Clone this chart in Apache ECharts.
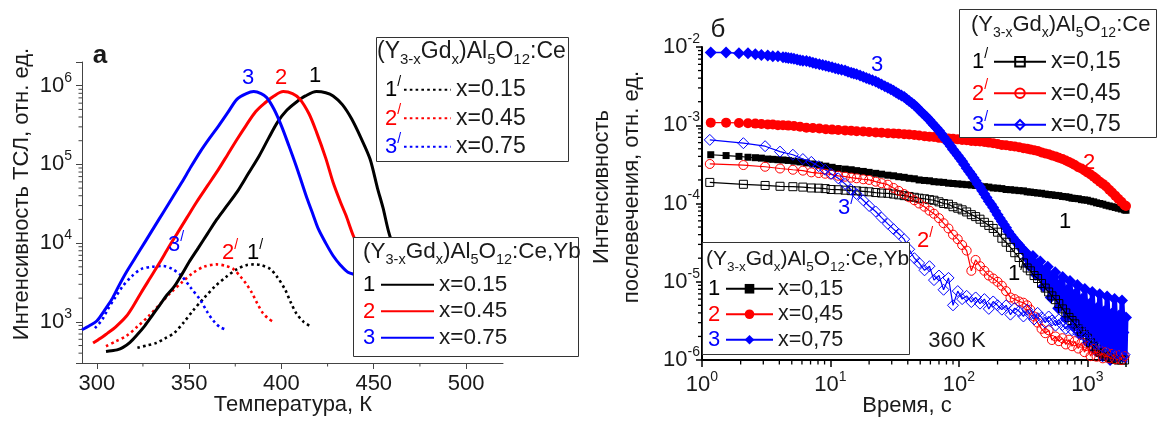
<!DOCTYPE html>
<html><head><meta charset="utf-8">
<script src="https://cdn.jsdelivr.net/npm/echarts@6/dist/echarts.min.js"></script>
<style>html,body{margin:0;padding:0;background:#fff}#c{width:1159px;height:421px}</style>
</head><body><div id="c"></div>
<script>
// ---------- Panel а : TL glow curves (temperature K, intensity) ----------
const tlYb1 = [[305,420],[308,430],[311,440],[314,470],[318,550],[322,690],[326,890],[330,1200],[334,1620],[338,2190],[342,2820],[346,3980],[350,5750],[355,8700],[360,13200],[365,20000],[370,28800],[376,44700],[382,75900],[388,129000],[393,214000],[398,347000],[403,490000],[408,617000],[413,741000],[419,841000],[424,813000],[428,741000],[433,575000],[438,380000],[443,219000],[448,117000],[452,50100],[455,28200],[458,14100],[462,7080],[466,3550],[470,2000]];
const tlYb2 = [[298,537],[302,617],[306,724],[310,851],[316,1175],[320,1622],[324,2344],[329,3631],[334,5623],[339,8913],[344,13804],[349,21380],[354,33113],[360,53703],[366,87096],[371,134896],[376,208930],[381,316228],[386,467735],[391,602560],[396,741310],[401,841395],[406,794328],[410,676083],[415,436516],[419,257040],[424,120226],[428,58884],[432,33113],[435,22387],[439,12303],[444,7079],[450,3981]];
const tlYb3 = [[292,794],[296,891],[300,1023],[304,1380],[308,1905],[312,2884],[316,4266],[321,6607],[326,10233],[331,15849],[336,24547],[341,38019],[346,58884],[351,93325],[356,144544],[361,213796],[366,309030],[371,457088],[376,676083],[381,794328],[385,841395],[389,794328],[392,707946],[396,501187],[400,309030],[404,173780],[408,95499],[411,58884],[414,36308],[417,23442],[420,15136],[424,10000],[428,6918],[432,5248],[436,4266],[440,3981],[444,3802]];
const tlCe1 = [[322,468],[327,501],[332,537],[337,617],[342,724],[347,977],[352,1380],[358,1995],[364,2818],[370,3715],[376,4677],[381,5248],[385,5370],[389,5248],[394,4677],[398,3631],[402,2570],[405,1778],[408,1288],[412,1000],[416,871]];
const tlCe2 = [[305,490],[310,562],[316,661],[322,871],[328,1175],[334,1660],[340,2344],[346,3162],[352,4169],[358,5012],[365,5370],[370,5129],[374,4677],[378,3715],[381,3020],[384,2344],[387,1698],[390,1288],[393,1096],[395,1023]];
const tlCe3 = [[299,832],[303,1072],[306,1445],[310,2042],[314,2818],[319,3802],[324,4677],[330,5012],[336,5129],[341,4677],[346,3802],[351,2692],[356,1905],[360,1318],[364,977],[367,851],[370,794]];
const tempTicks = [300, 350, 400, 450, 500];
const tempMinorTicks = [325, 375, 425, 475];
const tlMinorTicks = [400,500,600,700,800,900,2000,3000,4000,5000,6000,7000,8000,9000,2e4,3e4,4e4,5e4,6e4,7e4,8e4,9e4,2e5,3e5,4e5,5e5,6e5,7e5,8e5,9e5];

// ---------- Panel б : afterglow decay (time s, intensity) ----------
const tYb = [1.17,1.54,1.94,2.28,2.6,2.9,3.25,3.56,3.9,4.27,4.7,5.2,5.8,6.5,7.3,8.2,9.2,10.3,11.5,13,14.5,16,18,20,22.5,25,28,31,34,37.5,41,45,49,54,59,64,70,76,83,90,98,106,115,125,135,146,158,171,185,200,216,233,252,272,294,318,340,360,385,410,440,470,500,530,565,600,640,680,720,760,800,850,900,950,1000,1060,1120,1180,1250,1320,1400,1480,1560,1650,1740,1840,1950,2000];
const agYb1 = [4.2e-4,4.1e-4,4.0e-4,3.9e-4,3.85e-4,3.8e-4,3.7e-4,3.67e-4,3.63e-4,3.6e-4,3.55e-4,3.47e-4,3.4e-4,3.3e-4,3.2e-4,3.1e-4,3.0e-4,2.9e-4,2.8e-4,2.75e-4,2.7e-4,2.63e-4,2.57e-4,2.5e-4,2.43e-4,2.37e-4,2.3e-4,2.26e-4,2.2e-4,2.16e-4,2.1e-4,2.07e-4,2.0e-4,1.97e-4,1.95e-4,1.9e-4,1.88e-4,1.86e-4,1.82e-4,1.8e-4,1.78e-4,1.76e-4,1.74e-4,1.72e-4,1.7e-4,1.66e-4,1.64e-4,1.62e-4,1.58e-4,1.57e-4,1.55e-4,1.51e-4,1.5e-4,1.48e-4,1.46e-4,1.45e-4,1.41e-4,1.4e-4,1.38e-4,1.36e-4,1.35e-4,1.32e-4,1.3e-4,1.29e-4,1.27e-4,1.26e-4,1.23e-4,1.22e-4,1.2e-4,1.17e-4,1.16e-4,1.15e-4,1.12e-4,1.11e-4,1.1e-4,1.07e-4,1.05e-4,1.02e-4,1.0e-4,9.8e-5,9.5e-5,9.3e-5,9.1e-5,8.9e-5,8.7e-5,8.5e-5,8.3e-5,8.2e-5];
const agYb2 = [1.08e-3,1.08e-3,1.07e-3,1.06e-3,1.05e-3,1.035e-3,1.02e-3,1.02e-3,1.0e-3,1.0e-3,9.9e-4,9.8e-4,9.55e-4,9.3e-4,9.2e-4,9.1e-4,8.9e-4,8.8e-4,8.7e-4,8.6e-4,8.5e-4,8.4e-4,8.3e-4,8.2e-4,8.1e-4,8.0e-4,7.9e-4,7.85e-4,7.8e-4,7.7e-4,7.6e-4,7.5e-4,7.4e-4,7.25e-4,7.15e-4,7.1e-4,6.9e-4,6.8e-4,6.75e-4,6.7e-4,6.6e-4,6.5e-4,6.45e-4,6.3e-4,6.25e-4,6.2e-4,6.1e-4,6.0e-4,5.9e-4,5.75e-4,5.6e-4,5.55e-4,5.45e-4,5.35e-4,5.25e-4,5.1e-4,5.0e-4,4.9e-4,4.8e-4,4.7e-4,4.5e-4,4.35e-4,4.25e-4,4.1e-4,4.0e-4,3.85e-4,3.7e-4,3.55e-4,3.4e-4,3.25e-4,3.1e-4,2.9e-4,2.8e-4,2.65e-4,2.5e-4,2.35e-4,2.2e-4,2.05e-4,1.9e-4,1.78e-4,1.65e-4,1.5e-4,1.38e-4,1.26e-4,1.15e-4,1.05e-4,9.5e-5,9.3e-5];
const tYb3 = [1.17,1.54,1.94,2.28,2.6,2.9,3.25,3.56,3.9,4.27,4.5,4.7,4.95,5.2,5.5,5.8,6.1,6.5,6.9,7.3,7.7,8.2,8.7,9.2,9.7,10.3,10.9,11.5,12.2,13,13.7,14.5,15.2,16,17,18,19,20,21.2,22.5,23.7,25,26.5,28,29.5,31,32.5,34,35.7,37.5,39.2,41,43,45,47,49,51.5,54,56.5,59,61.5,64,67,70,73,76,79.5,83,86.5,90,94,98,102,106,110,115,120,125,130,135,140,146,152,158,164,171,178,185,192,200,208,216,224,233,242,252,262,272,283,294,306,318,
  330,339,348,357,367,377,387,397,408,419,430,442,454,466,479,492,505,519,533,547,562,577,593,609,625,642,659,677,695,714,733,753,773,794,815,837,860,883,907,931,956,982,1009,1036,1064,1093,1122,1152,1183,1215,1248,1282,1316,1352,1388,1426,1464,1504,1544,1586,1629,1673,1718,1764,1812,1861,1911,1963,2000];
const agYb3 = [8.5e-3,8.5e-3,8.3e-3,8.3e-3,8.1e-3,7.9e-3,7.8e-3,7.6e-3,7.6e-3,7.41e-3,7.33e-3,7.24e-3,7.16e-3,7.08e-3,6.92e-3,6.76e-3,6.68e-3,6.61e-3,6.46e-3,6.31e-3,6.17e-3,6.03e-3,5.89e-3,5.75e-3,5.62e-3,5.50e-3,5.37e-3,5.25e-3,5.13e-3,5.01e-3,4.84e-3,4.68e-3,4.57e-3,4.47e-3,4.32e-3,4.17e-3,4.03e-3,3.89e-3,3.76e-3,3.63e-3,3.47e-3,3.31e-3,3.16e-3,3.02e-3,2.88e-3,2.75e-3,2.63e-3,2.51e-3,2.40e-3,2.29e-3,2.16e-3,2.04e-3,1.93e-3,1.82e-3,1.70e-3,1.58e-3,1.46e-3,1.35e-3,1.26e-3,1.17e-3,1.08e-3,1.0e-3,9.2e-4,8.5e-4,7.8e-4,7.1e-4,6.5e-4,5.9e-4,5.4e-4,4.9e-4,4.5e-4,4.1e-4,3.76e-4,3.47e-4,3.16e-4,2.82e-4,2.57e-4,2.34e-4,2.14e-4,1.95e-4,1.78e-4,1.62e-4,1.46e-4,1.32e-4,1.19e-4,1.07e-4,9.8e-5,8.9e-5,8.0e-5,7.2e-5,6.5e-5,5.9e-5,5.4e-5,4.9e-5,4.4e-5,4.0e-5,3.67e-5,3.39e-5,3.16e-5,2.95e-5,2.72e-5,2.51e-5,
  2.4e-5,2.0e-5,1.62e-5,2.04e-5,1.6e-5,2.14e-5,1.66e-5,1.23e-5,1.7e-5,1.23e-5,1.82e-5,1.29e-5,8.7e-6,1.38e-5,9.1e-6,1.55e-5,1.02e-5,6.3e-6,1.12e-5,6.9e-6,1.32e-5,7.9e-6,4.6e-6,9.3e-6,5.25e-6,1.15e-5,6.3e-6,3.4e-6,7.9e-6,4.2e-6,1.02e-5,5.3e-6,2.7e-6,6.9e-6,3.4e-6,9.1e-6,4.5e-6,2.14e-6,6.0e-6,2.8e-6,8.1e-6,3.7e-6,1.66e-6,5.2e-6,2.3e-6,7.4e-6,3.2e-6,1.32e-6,4.6e-6,1.95e-6,6.9e-6,2.8e-6,1.12e-6,4.2e-6,1.66e-6,6.5e-6,2.5e-6,1.0e-6,3.9e-6,1.51e-6,6.0e-6,2.4e-6,9.3e-7,3.7e-6,1.45e-6,5.75e-6,2.24e-6,8.9e-7,3.5e-6];
const YB3_NOISY_FROM = 101; // index where curve 3 turns into the noisy band (t ≈ 318 s)
const tCe = [1.15,2.1,3.1,4.05,5.1,6.1,7.1,8.1,9.1,10.1,11.5,13,14.5,16,18,20,22.5,25,28,31,34,37.5,41,45,49,54,59,64,70,76,83,90,98,106,115,125,135,146,158,171,185,200,216,233,252,272,294,318,340,360,385,410,440,470,500,530,565,600,640,680,720,760,800,850,900,950,1000,1060,1120,1180,1250,1320,1400,1480,1560,1650,1740,1840,1950];
const agCe1 = [1.86e-4,1.76e-4,1.7e-4,1.66e-4,1.64e-4,1.62e-4,1.58e-4,1.57e-4,1.55e-4,1.51e-4,1.5e-4,1.48e-4,1.46e-4,1.45e-4,1.43e-4,1.41e-4,1.38e-4,1.36e-4,1.35e-4,1.32e-4,1.29e-4,1.26e-4,1.23e-4,1.2e-4,1.17e-4,1.15e-4,1.12e-4,1.1e-4,1.05e-4,1.0e-4,9.8e-5,9.1e-5,8.7e-5,8.3e-5,7.8e-5,7.2e-5,6.8e-5,6.3e-5,5.75e-5,5.25e-5,4.8e-5,4.3e-5,3.6e-5,3.2e-5,2.75e-5,2.35e-5,2.04e-5,1.74e-5,1.5e-5,1.38e-5,1.2e-5,1.1e-5,9.5e-6,8.3e-6,7.4e-6,6.6e-6,5.9e-6,5.25e-6,4.5e-6,4.0e-6,3.5e-6,3.2e-6,2.9e-6,2.5e-6,2.3e-6,2.1e-6,1.9e-6,1.66e-6,1.5e-6,1.38e-6,1.26e-6,1.2e-6,1.12e-6,1.07e-6,1.05e-6,1.02e-6,1.0e-6,1.0e-6,1.0e-6];
const agCe2 = [3.2e-4,3.1e-4,2.95e-4,2.8e-4,2.7e-4,2.63e-4,2.5e-4,2.45e-4,2.4e-4,2.35e-4,2.26e-4,2.2e-4,2.14e-4,2.1e-4,2.04e-4,2.0e-4,1.9e-4,1.82e-4,1.74e-4,1.58e-4,1.45e-4,1.32e-4,1.2e-4,1.1e-4,1.0e-4,9.1e-5,8.1e-5,7.4e-5,6.5e-5,5.6e-5,4.8e-5,4.0e-5,3.5e-5,2.95e-5,2.5e-5,1.38e-5,1.9e-5,1.58e-5,1.38e-5,1.2e-5,1.1e-5,1.0e-5,8.9e-6,7.6e-6,6.3e-6,6.0e-6,5.6e-6,5.4e-6,5.0e-6,4.4e-6,3.6e-6,3.0e-6,2.5e-6,2.2e-6,2.4e-6,1.8e-6,2.0e-6,1.74e-6,1.9e-6,1.58e-6,1.82e-6,1.5e-6,1.74e-6,1.4e-6,1.66e-6,1.26e-6,1.5e-6,1.12e-6,1.38e-6,1.1e-6,1.32e-6,1.05e-6,1.26e-6,1.05e-6,1.2e-6,1.02e-6,1.15e-6,1.0e-6,1.12e-6];
const agCe3 = [6.5e-4,5.9e-4,5.4e-4,4.6e-4,4.2e-4,3.7e-4,3.4e-4,3.0e-4,2.7e-4,2.4e-4,2.1e-4,1.78e-4,1.5e-4,1.32e-4,1.1e-4,9.3e-5,7.9e-5,6.6e-5,5.5e-5,4.7e-5,4.1e-5,3.5e-5,2.6e-5,2.0e-5,1.74e-5,1.4e-5,1.58e-5,1.05e-5,1.2e-5,7.9e-6,1.12e-5,5.0e-6,7.6e-6,6.0e-6,6.6e-6,5.5e-6,6.3e-6,5.25e-6,6.0e-6,4.5e-6,5.6e-6,5.0e-6,4.4e-6,5.0e-6,3.8e-6,4.6e-6,4.2e-6,3.6e-6,4.4e-6,3.8e-6,3.3e-6,4.0e-6,3.5e-6,3.0e-6,3.6e-6,3.2e-6,2.75e-6,3.3e-6,2.8e-6,2.5e-6,2.8e-6,2.4e-6,2.6e-6,2.2e-6,2.4e-6,2.0e-6,1.9e-6,2.1e-6,1.74e-6,1.58e-6,1.66e-6,1.45e-6,1.5e-6,1.32e-6,1.38e-6,1.2e-6,1.26e-6,1.12e-6,1.17e-6];
const timeMinorTicks = [2,3,4,5,6,7,8,9,20,30,40,50,60,70,80,90,200,300,400,500,600,700,800,900];
const agMinorTicks = [2e-6,3e-6,4e-6,5e-6,6e-6,7e-6,8e-6,9e-6,2e-5,3e-5,4e-5,5e-5,6e-5,7e-5,8e-5,9e-5,2e-4,3e-4,4e-4,5e-4,6e-4,7e-4,8e-4,9e-4,2e-3,3e-3,4e-3,5e-3,6e-3,7e-3,8e-3,9e-3];

const leftLegendLabels = ['x=0.15', 'x=0.45', 'x=0.75'];
const rightLegendLabels = ['x=0,15', 'x=0,45', 'x=0,75'];

// ---------- axis ranges ----------
const LX = [292, 520], LY = [300, 2e6], RX = [1, 2000], RY = [1e-6, 1e-2];

const FONT = '"Liberation Sans", Arial, sans-serif';
const TXT = '#1a1a1a';
const BLACK = '#000000', RED = '#ff0000', BLUE = '#0000ff';

const labelMap = {
  L1p: leftLegendLabels[0], L2p: leftLegendLabels[1], L3p: leftLegendLabels[2],
  L1: leftLegendLabels[0], L2: leftLegendLabels[1], L3: leftLegendLabels[2],
  R1p: rightLegendLabels[0], R2p: rightLegendLabels[1], R3p: rightLegendLabels[2],
  R1: rightLegendLabels[0], R2: rightLegendLabels[1], R3: rightLegendLabels[2]
};

function logLabel(v) {
  const l = Math.log10(v), e = Math.round(l);
  if (Math.abs(l - e) > 1e-6) return '';
  return '{b|10}{e|' + e + '}';
}
const logRich = {
  b: {fontSize: 22, lineHeight: 30, fontFamily: FONT, color: TXT},
  e: {fontSize: 14, lineHeight: 16, verticalAlign: 'top', fontFamily: FONT, color: TXT}
};

const chart = echarts.init(document.getElementById('c'), null, {renderer: 'canvas'});

function lineTL(name, data, color, dotted) {
  return {
    name, type: 'line', xAxisIndex: 0, yAxisIndex: 0, data, symbol: 'none', smooth: 0.3,
    lineStyle: dotted ? {color, width: 2.6, type: [2.6, 3.2], cap: 'butt'} : {color, width: 3},
    itemStyle: {color}, z: dotted ? 3 : 4
  };
}
function lineAG(name, t, v, color, symbol, size, hollow, z, lw) {
  return {
    name, type: 'line', xAxisIndex: 1, yAxisIndex: 1,
    data: t.map((x, i) => [x, v[i]]),
    symbol, symbolSize: size, showSymbol: true, showAllSymbol: true,
    lineStyle: {color, width: lw || 1.2},
    itemStyle: hollow ? {color: 'rgba(255,255,255,0)', borderColor: color, borderWidth: 1} : {color},
    z
  };
}
// minor tick marks drawn through the axis scales (custom series)
function minorTicks(xi, data, dx, dy, color, w) {
  return {
    type: 'custom', xAxisIndex: xi, yAxisIndex: xi, data, silent: true, z: 5, clip: false,
    renderItem: (params, api) => {
      const p = api.coord([api.value(0), api.value(1)]);
      return {type: 'line', shape: {x1: p[0], y1: p[1], x2: p[0] + dx, y2: p[1] + dy},
        style: {stroke: color, lineWidth: w}};
    }
  };
}

function txt(x, y, text, extra, rich) {
  const style = Object.assign({text, fill: TXT, font: '22px ' + FONT, align: 'center', verticalAlign: 'middle'}, extra || {});
  if (rich) style.rich = rich;
  return {type: 'text', x, y, z: 110, style};
}
function box(x, y, w, h, color) {
  return {type: 'rect', z: 100, shape: {x, y, width: w, height: h},
    style: {fill: '#fff', stroke: color, lineWidth: 1}};
}
function subRich(base, sub) {
  return {s: {fontSize: sub, lineHeight: 10, verticalAlign: 'bottom', fontFamily: FONT, fill: TXT}};
}
function primeRich(color) {
  return {p: {fontSize: 14, lineHeight: 14, verticalAlign: 'top', fontFamily: FONT, fill: color}};
}
const CE_TITLE = '(Y{s|3-x}Gd{s|x})Al{s|5}O{s|12}:Ce';
const YB_TITLE = '(Y{s|3-x}Gd{s|x})Al{s|5}O{s|12}:Ce,Yb';

function title(x, y, text, fs, sub) {
  return txt(x, y, text, {align: 'left', font: fs + 'px ' + FONT, lineHeight: 30}, subRich(fs, sub));
}
function prefix(x, y, n, color, prime) {
  return txt(x, y, prime ? n + '{p|/}' : n, {align: 'left', fill: color, lineHeight: 30}, prime ? primeRich(color) : null);
}

function mkLegend(names, left, top, lh, fs, iw, hideSym) {
  const l = {
    data: names, orient: 'vertical', left, top, itemGap: 0, itemWidth: iw, itemHeight: 12,
    padding: 0, selectedMode: false, z: 120, formatter: n => labelMap[n],
    textStyle: {fontSize: fs, lineHeight: lh, color: TXT, fontFamily: FONT}
  };
  if (hideSym) l.itemStyle = {opacity: 0};
  return l;
}

const option = {
  animation: false,
  backgroundColor: '#fff',
  grid: [
    {left: 82, top: 62, width: 421, height: 301},
    {left: 702, top: 47, width: 424, height: 313}
  ],
  xAxis: [
    {type: 'value', gridIndex: 0, min: LX[0], max: LX[1],
      axisLine: {onZero: false, lineStyle: {color: '#444', width: 1}},
      axisTick: {length: 6, customValues: tempTicks, lineStyle: {color: '#444'}},
      axisLabel: {customValues: tempTicks, fontSize: 22, margin: 10, color: TXT, fontFamily: FONT},
      splitLine: {show: false}},
    {type: 'log', gridIndex: 1, min: RX[0], max: RX[1], logBase: 10,
      axisLine: {onZero: false, lineStyle: {color: '#000', width: 2}},
      axisTick: {length: 7, lineStyle: {color: '#000', width: 1.5}},
      axisLabel: {formatter: logLabel, rich: logRich, margin: 10},
      splitLine: {show: false}}
  ],
  yAxis: [
    {type: 'log', gridIndex: 0, min: LY[0], max: LY[1], logBase: 10,
      axisLine: {show: true, onZero: false, lineStyle: {color: '#444', width: 1}},
      axisTick: {show: true, length: 6, lineStyle: {color: '#444'}},
      axisLabel: {formatter: logLabel, rich: logRich, margin: 10},
      splitLine: {show: false}},
    {type: 'log', gridIndex: 1, min: RY[0], max: RY[1], logBase: 10,
      axisLine: {show: true, onZero: false, lineStyle: {color: '#000', width: 2}},
      axisTick: {show: true, length: 6, lineStyle: {color: '#000', width: 1.5}},
      axisLabel: {formatter: logLabel, rich: logRich, margin: 2},
      splitLine: {show: false}}
  ],
  legend: [
    mkLegend(['L1p', 'L2p', 'L3p'], 403, 75.5, 28.5, 23, 47, true),
    mkLegend(['L1', 'L2', 'L3'], 380, 271.5, 26.5, 22.5, 53, true),
    mkLegend(['R1p', 'R2p', 'R3p'], 993, 46, 31.5, 23, 52, false),
    mkLegend(['R1', 'R2', 'R3'], 725, 276, 25.5, 21.5, 47, false)
  ],
  series: [
    lineTL('L1p', tlCe1, BLACK, true),
    lineTL('L2p', tlCe2, RED, true),
    lineTL('L3p', tlCe3, BLUE, true),
    lineTL('L1', tlYb1, BLACK, false),
    lineTL('L2', tlYb2, RED, false),
    lineTL('L3', tlYb3, BLUE, false),
    lineAG('R1', tYb, agYb1, BLACK, 'rect', 7, false, 2),
    lineAG('R2', tYb, agYb2, RED, 'circle', 10, false, 2),
    lineAG('R3', tYb3.slice(0, YB3_NOISY_FROM + 1), agYb3.slice(0, YB3_NOISY_FROM + 1), BLUE, 'diamond', 12, false, 3, 1.5),
    lineAG('R3', tYb3.slice(YB3_NOISY_FROM), agYb3.slice(YB3_NOISY_FROM), BLUE, 'diamond', 12, false, 3, 5),
    lineAG('R1p', tCe, agCe1, BLACK, 'rect', 8, true, 4),
    lineAG('R2p', tCe, agCe2, RED, 'circle', 9, true, 4),
    lineAG('R3p', tCe, agCe3, BLUE, 'diamond', 11, true, 4),
    minorTicks(0, tlMinorTicks.map(v => [LX[0], v]), -3.5, 0, '#444', 1),
    minorTicks(0, tempMinorTicks.map(v => [v, LY[0]]), 0, 3.5, '#444', 1),
    minorTicks(1, agMinorTicks.map(v => [RX[0], v]), -4, 0, '#000', 1.3),
    minorTicks(1, timeMinorTicks.map(v => [v, RY[0]]), 0, 4.5, '#000', 1.3)
  ],
  graphic: {elements: [
    // axis titles
    txt(293, 405, 'Температура, К'),
    txt(22, 194, 'Интенсивность ТСЛ, отн. ед.', {}, null),
    txt(907, 406, 'Время, с'),
    txt(602, 187, 'Интенсивность'),
    txt(632, 187, 'послевечения, отн. ед.'),
    // panel letters
    txt(100, 56, 'а', {font: 'bold 26px ' + FONT}),
    txt(718, 30, 'б', {font: '26px ' + FONT}),
    // curve labels panel а
    txt(248, 78, '3', {fill: BLUE}), txt(281, 78, '2', {fill: RED}), txt(315, 76, '1', {fill: BLACK}),
    txt(176, 245, '3{p|/}', {fill: BLUE, lineHeight: 30}, primeRich(BLUE)),
    txt(230, 253, '2{p|/}', {fill: RED, lineHeight: 30}, primeRich(RED)),
    txt(255, 253, '1{p|/}', {fill: BLACK, lineHeight: 30}, primeRich(BLACK)),
    // curve labels panel б
    txt(877, 65, '3', {fill: BLUE}), txt(1089, 163, '2', {fill: RED}), txt(1065, 222, '1', {fill: BLACK}),
    txt(846, 208, '3{p|/}', {fill: BLUE, lineHeight: 30}, primeRich(BLUE)),
    txt(925, 241, '2{p|/}', {fill: RED, lineHeight: 30}, primeRich(RED)),
    txt(1016, 274, '1{p|/}', {fill: BLACK, lineHeight: 30}, primeRich(BLACK)),
    txt(957, 341, '360 K'),
    // legend boxes
    box(376.5, 37.5, 192, 124, '#333'),
    title(377, 52, CE_TITLE, 23, 15),
    prefix(385, 90, '1', BLACK, true), prefix(385, 118.5, '2', RED, true), prefix(385, 147, '3', BLUE, true),
    box(353.5, 237.5, 225, 119, '#333'),
    title(363, 252, YB_TITLE, 22.5, 14.5),
    prefix(363, 285, '1', BLACK, false), prefix(363, 311.5, '2', RED, false), prefix(363, 338, '3', BLUE, false),
    box(959.5, 9.5, 197, 128, '#333'),
    title(971, 25, CE_TITLE, 22, 14),
    prefix(972, 62, '1', BLACK, true), prefix(972, 93.5, '2', RED, true), prefix(972, 125, '3', BLUE, true),
    box(702.5, 242.5, 207, 112, '#333'),
    title(706, 259, YB_TITLE, 21, 13.5),
    prefix(708, 289, '1', BLACK, false), prefix(708, 314.5, '2', RED, false), prefix(708, 340, '3', BLUE, false)
  ]}
};
// rotate y-axis titles
option.graphic.elements[1].rotation = Math.PI / 2;
option.graphic.elements[3].rotation = Math.PI / 2;
option.graphic.elements[4].rotation = Math.PI / 2;
chart.setOption(option);
</script>
</body></html>
